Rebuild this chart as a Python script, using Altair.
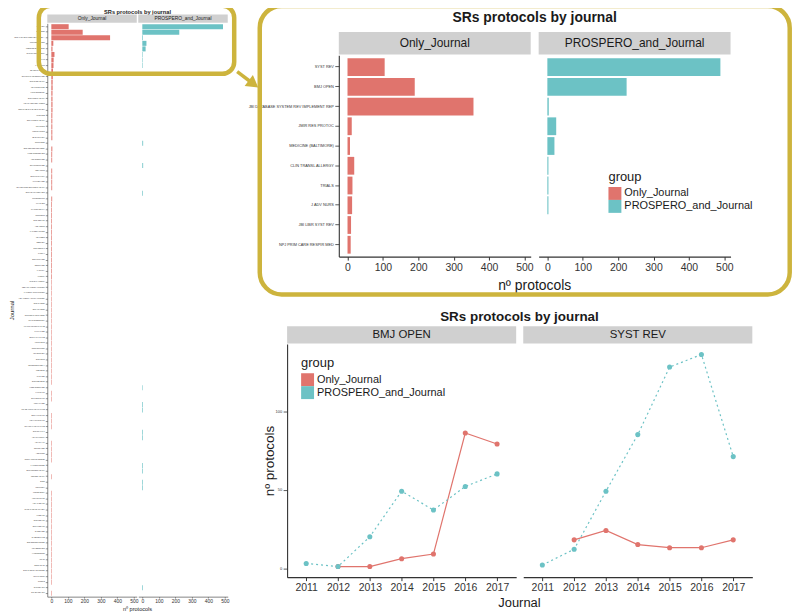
import altair as alt
import pandas as pd

FONT = "Liberation Sans"
OLIVE = "#CDB43D"
RED = "#E0746D"
TEAL = "#6CC2C5"
STRIP = "#D0D0D0"
INK = "#1A1A1A"
AXC = "#333333"

groups = ["Only_Journal", "PROSPERO_and_Journal"]

top_journals = ["SYST REV", "BMJ OPEN", "JBI DATABASE SYSTEM REV IMPLEMENT REP",
                "JMIR RES PROTOC", "MEDICINE (BALTIMORE)", "CLIN TRANSL ALLERGY",
                "TRIALS", "J ADV NURS", "JBI LIBR SYST REV", "NPJ PRIM CARE RESPIR MED"]
top_only = [105, 190, 356, 12, 7, 19, 14, 13, 10, 9]
top_prospero = [489, 224, 4, 25, 20, 3, 3, 3, 0, 0]

other_journals = [
    "BMJ GLOB HEALTH", "INT J NURS STUD", "J CLIN EPIDEMIOL", "BMC PUBLIC HEALTH", "HEALTH TECHNOL ASSESS",
    "COCHRANE DATABASE SYST REV", "PLOS ONE", "EUR J PUBLIC HEALTH", "INT J SURG", "WORLD J SURG",
    "JBI EVID SYNTH", "NURS OPEN", "BMC MED RES METHODOL", "J MED INTERNET RES", "ANN INTERN MED",
    "BR J SPORTS MED", "PEDIATRICS", "BMC PSYCHIATRY", "AM J PREV MED", "INT J ENVIRON RES PUBLIC HEALTH",
    "BMC HEALTH SERV RES", "IMPLEMENT SCI", "J PAIN RES", "PHYSIOTHERAPY", "NUTRIENTS",
    "BMC GERIATR", "AGE AGEING", "J AM GERIATR SOC", "INT J OBES", "OBES REV",
    "EUR RESPIR J", "THORAX", "BMC PULM MED", "RESPIR MED", "J ASTHMA",
    "ALLERGY", "CLIN EXP ALLERGY", "PEDIATR ALLERGY IMMUNOL", "J ALLERGY CLIN IMMUNOL", "ANN ALLERGY ASTHMA IMMUNOL",
    "BMC CANCER", "EUR J CANCER", "SUPPORT CARE CANCER", "PSYCHOONCOLOGY", "J PAIN SYMPTOM MANAGE",
    "PALLIAT MED", "BMC PALLIAT CARE", "J CLIN NURS", "NURS OUTLOOK", "INT NURS REV",
    "BMC NURS", "NURSE EDUC TODAY", "MED EDUC", "ACAD MED", "BMC MED EDUC",
    "J GEN INTERN MED", "FAM PRACT", "BR J GEN PRACT", "ANN FAM MED", "SCAND J PRIM HEALTH CARE",
    "BMC FAM PRACT", "J EVAL CLIN PRACT", "INT J QUAL HEALTH CARE", "BMJ QUAL SAF", "HEALTH POLICY",
    "HEALTH AFF", "SOC SCI MED", "ADDICTION", "DRUG ALCOHOL DEPEND", "J AFFECT DISORD",
    "BMC WOMENS HEALTH", "REPROD HEALTH", "BJOG", "MIDWIFERY", "WOMEN BIRTH",
    "ARCH DIS CHILD", "ACTA PAEDIATR", "CHILD CARE HEALTH DEV", "J PEDIATR", "BMC PEDIATR",
    "EUR J PEDIATR", "DIABET MED", "DIABETES CARE", "BMC ENDOCR DISORD", "J DIABETES RES",
    "HYPERTENSION", "HEART", "OPEN HEART", "BMC CARDIOVASC DISORD", "INT J CARDIOL",
    "STROKE", "CLIN REHABIL", "DISABIL REHABIL",
]
other_only = [
    8, 8, 7, 7, 7, 7, 6, 6, 6, 6,
    6, 0, 6, 5, 5, 0, 5, 5, 5, 5,
    0, 5, 4, 4, 4, 4, 4, 4, 4, 4,
    4, 4, 4, 4, 4, 4, 3, 3, 3, 3,
    3, 3, 3, 3, 3, 3, 3, 3, 3, 3,
    3, 3, 3, 3, 3, 0, 3, 3, 0, 0,
    3, 3, 3, 0, 0, 3, 3, 3, 3, 0,
    0, 3, 0, 0, 3, 3, 3, 3, 3, 3,
    3, 3, 3, 3, 3, 3, 3, 3, 3, 3,
    3, 0, 3,
]
other_prospero = [
    0, 0, 0, 0, 0, 0, 0, 0, 0, 0,
    0, 5, 0, 0, 0, 5, 0, 0, 0, 0,
    4, 0, 0, 0, 0, 0, 0, 0, 0, 0,
    0, 0, 0, 0, 0, 0, 0, 0, 0, 0,
    0, 0, 0, 0, 0, 0, 0, 0, 0, 0,
    0, 0, 0, 0, 0, 3, 0, 0, 4, 4,
    0, 0, 0, 4, 4, 0, 0, 0, 0, 4,
    4, 0, 4, 4, 0, 0, 0, 0, 0, 0,
    0, 0, 0, 0, 0, 0, 0, 0, 0, 0,
    0, 4, 0,
]

years = [2011, 2012, 2013, 2014, 2015, 2016, 2017]
bmj_only = [None, 1, 1, 6, 9, 86, 79]
bmj_prospero = [3, 1, 20, 49, 37, 52, 60]
syst_only = [None, 18, 24, 15, 13, 13, 18]
syst_prospero = [2, 12, 49, 85, 128, 136, 71]

x_ticks = [0, 100, 200, 300, 400, 500]
line_ticks = [0, 50, 100]

# ---------------- data tables ----------------
journals = top_journals + other_journals
rows = []
for j, o, p in zip(journals, top_only + other_only, top_prospero + other_prospero):
    rows.append({"journal": j, "group": groups[0], "n": o})
    rows.append({"journal": j, "group": groups[1], "n": p})
bars_df = pd.DataFrame(rows)
inset_df = bars_df[bars_df["journal"].isin(top_journals)]

lrows = []
for jn, so, sp in [("BMJ OPEN", bmj_only, bmj_prospero), ("SYST REV", syst_only, syst_prospero)]:
    for y, o, p in zip(years, so, sp):
        if o is not None:
            lrows.append({"journal": jn, "year": y, "group": groups[0], "n": o})
        if p is not None:
            lrows.append({"journal": jn, "year": y, "group": groups[1], "n": p})
lines_df = pd.DataFrame(lrows)
one = pd.DataFrame({"k": [0]})


# ---------------- helpers ----------------
def deco_rect(x, x2, y, y2, **kw):
    return alt.Chart(one).mark_rect(**kw).encode(
        x=alt.value(x), x2=alt.value(x2), y=alt.value(y), y2=alt.value(y2))


def deco_text(x, y, text, size, weight="normal"):
    return alt.Chart(one).mark_text(font=FONT, fontSize=size, fontWeight=weight, color=INK).encode(
        x=alt.value(x), y=alt.value(y), text=alt.value(text))


def strip(w, y0, y1, label, size):
    return alt.layer(deco_rect(0, w, y0, y1, color=STRIP),
                     deco_text(w / 2, (y0 + y1) / 2, label, size))


def spacer(w, h):
    return alt.Chart(one).mark_point(opacity=0).encode(
        x=alt.value(0), y=alt.value(0)).properties(width=w, height=h)


def legend(lx, ly):
    return alt.Legend(title="group", orient="none", legendX=lx, legendY=ly,
                      titleFontSize=13, titleFontWeight="normal", titleFont=FONT, titleColor=INK,
                      labelFont=FONT, labelFontSize=11, labelColor=INK,
                      symbolType="square", symbolSize=169, symbolStrokeWidth=0, symbolOpacity=1,
                      rowPadding=0, padding=0, titlePadding=3, labelOffset=3)


color_scale = alt.Scale(domain=groups, range=[RED, TEAL])
XB = alt.Scale(domain=[-24.6, 517.7], nice=False, zero=False)


def yband(dom):
    return alt.Scale(domain=dom, paddingInner=0.1, paddingOuter=0.15)


# ---------------- left overview chart ----------------
LW, LH = 90, 576.6
lp_x = alt.Axis(values=x_ticks, title=None, labelFontSize=5, tickSize=1.5, labelPadding=0.6,
                tickWidth=0.5, domainWidth=0.6)
lp_y = alt.Axis(title="Journal", labelFontSize=1.65, labelLimit=31, labelPadding=1, tickSize=2,
                tickWidth=0.5, domainWidth=0.6, titleFontSize=6, titleAngle=270, titleX=-36,
                titleY=LH / 2, titleBaseline="middle", titleAlign="center")

lp1 = alt.layer(
    # invisible anchor that fixes the page origin of the whole figure
    deco_rect(-46.5, -46, -20, -19.5, opacity=0),
    strip(LW, -9, -0.5, "Only_Journal", 4.9),
    alt.Chart(bars_df).transform_filter(alt.datum.group == groups[0]).mark_bar(color=RED).encode(
        x=alt.X("n:Q", scale=XB, axis=lp_x),
        y=alt.Y("journal:N", scale=yband(journals), axis=lp_y)),
    deco_text(90.75, -11.9, "SRs protocols by journal", 5.7, "bold"),
    deco_text(90.75, 589, "nº protocols", 5.6),
).properties(width=LW, height=LH)

lp2 = alt.layer(
    strip(LW, -9, -0.5, "PROSPERO_and_Journal", 4.9),
    alt.Chart(bars_df).transform_filter(alt.datum.group == groups[1]).mark_bar(color=TEAL).encode(
        x=alt.X("n:Q", scale=XB, axis=lp_x),
        y=alt.Y("journal:N", scale=yband(journals), axis=None)),
    deco_rect(-100, 96.5, -17.7, 50.8, fillOpacity=0, stroke=OLIVE, strokeWidth=4.5, cornerRadius=12),
).properties(width=LW, height=LH)

# ---------------- zoomed inset ----------------
IW, IH = 193, 202.6
ip_x = alt.Axis(values=x_ticks, title=None, labelFontSize=10.5, tickSize=3.5, labelPadding=2,
                domainWidth=1.1, tickWidth=1)
ip_y = alt.Axis(title=None, labelFontSize=3.9, labelLimit=200, tickSize=4, labelPadding=1.5,
                domainWidth=1.1, tickWidth=0.8)

ip1 = alt.layer(
    strip(IW, -23.4, -0.7, "Only_Journal", 12),
    alt.Chart(inset_df).transform_filter(alt.datum.group == groups[0]).mark_bar(color=RED).encode(
        x=alt.X("n:Q", scale=XB, axis=ip_x),
        y=alt.Y("journal:N", scale=yband(top_journals), axis=ip_y)),
    deco_text(197, -36.9, "SRs protocols by journal", 14, "bold"),
    deco_text(197, 232.6, "nº protocols", 14),
).properties(width=IW, height=IH)

ip2 = alt.layer(
    strip(IW, -23.4, -0.7, "PROSPERO_and_Journal", 12),
    alt.Chart(inset_df).transform_filter(alt.datum.group == groups[1]).mark_bar().encode(
        x=alt.X("n:Q", scale=XB, axis=ip_x),
        y=alt.Y("journal:N", scale=yband(top_journals), axis=None),
        color=alt.Color("group:N", scale=color_scale, legend=legend(70.2, 116.6))),
    deco_rect(-280.5, 252.5, -49.4, 240.6, fillOpacity=0, stroke=OLIVE, strokeWidth=4.5, cornerRadius=22),
    alt.Chart(one).mark_rule(color=OLIVE, strokeWidth=3.5).encode(
        x=alt.value(-303.2), y=alt.value(16.6), x2=alt.value(-286.8), y2=alt.value(29)),
    alt.Chart(one).mark_point(shape="triangle-right", filled=True, size=190, angle=37,
                              color=OLIVE, opacity=1).encode(x=alt.value(-286.8), y=alt.value(29)),
).properties(width=IW, height=IH)

# ---------------- yearly line chart ----------------
CW, CH = 230.4, 234.6
yl = alt.Scale(domain=[-5.75, 142.75], nice=False, zero=False)
xl = alt.Scale(type="point", padding=0.6)
lc_x = alt.Axis(title=None, labelAngle=0, labelFontSize=10.5, tickSize=3.5, labelPadding=2,
                domainWidth=1.1, tickWidth=1)
lc_y = alt.Axis(values=line_ticks, title="nº protocols", titleFontSize=13.5, titleAngle=270,
                titleX=-17.7, titleY=CH / 2, titleBaseline="middle", titleAlign="center",
                labelFontSize=4, tickSize=4, labelPadding=1.5, domainWidth=1.1, tickWidth=0.8)


def line_panel(jn, first):
    d = lines_df[lines_df["journal"] == jn]
    ex = alt.X("year:O", scale=xl, axis=lc_x)
    ey = alt.Y("n:Q", scale=yl, axis=lc_y if first else None)
    only_line = alt.Chart(d).transform_filter(alt.datum.group == groups[0]).mark_line(
        color=RED, strokeWidth=1.2).encode(x=ex, y=ey)
    pros_line = alt.Chart(d).transform_filter(alt.datum.group == groups[1]).mark_line(
        color=TEAL, strokeWidth=1.2, strokeDash=[2, 3]).encode(x=ex, y=ey)
    pts = alt.Chart(d).mark_point(filled=True, size=26, opacity=1).encode(
        x=ex, y=ey,
        color=alt.Color("group:N", scale=color_scale, legend=legend(14.1, 13.5) if first else None))
    layers = [strip(CW, -17.8, -0.3, jn, 11.5), only_line, pros_line, pts]
    if first:
        layers += [deco_text(233.7, -26.8, "SRs protocols by journal", 13.5, "bold"),
                   deco_text(233.7, 260.6, "Journal", 13)]
    return alt.layer(*layers).properties(width=CW, height=CH)


lc1 = line_panel("BMJ OPEN", True)
lc2 = line_panel("SYST REV", False)

# ---------------- layout ----------------
# with flush bounds a nested concat counts as zero size, so the spacing of the
# enclosing concat is the full offset between origins
left_col = alt.hconcat(lp1, lp2, spacing=1.5, bounds="flush").resolve_scale(color="independent")
inset_row = alt.hconcat(spacer(43.8, 100), ip1, ip2, spacing=8, bounds="flush").resolve_scale(color="independent")
lines_row = alt.hconcat(lc1, lc2, spacing=6.5, bounds="flush").resolve_scale(color="independent")
inner = alt.vconcat(inset_row, lines_row, spacing=290.4, bounds="flush").resolve_scale(color="independent")
right_col = alt.vconcat(spacer(1, 31.7), inner, spacing=0, bounds="flush").resolve_scale(color="independent")

chart = alt.hconcat(left_col, right_col, spacing=241.2, bounds="flush").resolve_scale(
    color="independent"
).properties(
    padding={"left": -7.5, "top": -6.3, "right": 0, "bottom": 0}
).configure_view(stroke=None).configure_axis(
    labelFont=FONT, titleFont=FONT, labelColor=AXC, tickColor=AXC, domainColor=AXC,
    titleColor=INK, titleFontWeight="normal", grid=False
)

chart.save("out.html", embed_options={"renderer": "svg", "actions": False})
